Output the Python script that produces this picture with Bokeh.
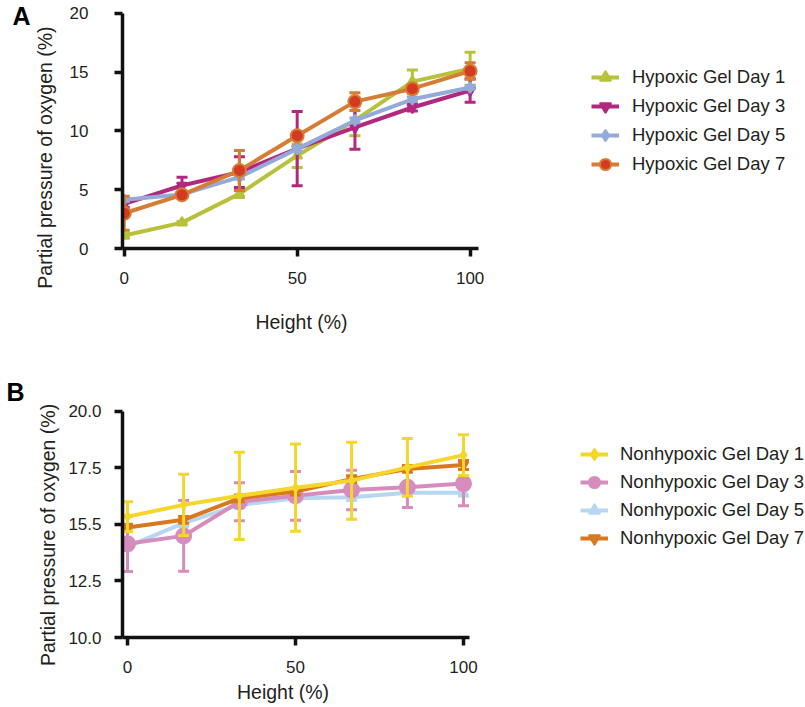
from bokeh.plotting import figure
from bokeh.models import Legend, LegendItem, Range1d, FixedTicker, LinearAxis
from bokeh.layouts import column
from bokeh.embed import file_html
from bokeh.resources import INLINE

# ---------------- data ----------------
height_pct = [0, 16.7, 33.3, 50, 66.7, 83.3, 100]

# Panel A - hypoxic gel
hyp_labels = ["Hypoxic Gel Day 1", "Hypoxic Gel Day 3", "Hypoxic Gel Day 5", "Hypoxic Gel Day 7"]
hyp_day1 = [1.1, 2.2, 4.65, 7.9, 10.9, 14.2, 15.3]
hyp_day1_err = [0.2, 0.1, 0.3, 1.0, 1.3, 1.0, 1.4]
hyp_day3 = [3.8, 5.36, 6.5, 8.5, 10.3, 12.0, 13.45]
hyp_day3_err = [0.3, 0.7, 1.3, 3.15, 1.85, 0.3, 1.0]
hyp_day5 = [4.15, 4.6, 6.07, 8.48, 10.9, 12.7, 13.7]
hyp_day5_err = [0.15, 0.15, 0.15, 0.2, 0.2, 0.2, 0.15]
hyp_day7 = [3.0, 4.57, 6.64, 9.6, 12.5, 13.6, 15.1]
hyp_day7_err = [1.45, 0.2, 1.7, 0.3, 0.75, 0.3, 0.7]
hyp_yticks = [0, 5, 10, 15, 20]

# Panel B - nonhypoxic gel
non_labels = ["Nonhypoxic Gel Day 1", "Nonhypoxic Gel Day 3", "Nonhypoxic Gel Day 5", "Nonhypoxic Gel Day 7"]
non_day1 = [15.34, 15.86, 16.26, 16.62, 16.93, 17.52, 18.06]
non_day1_err = [0.66, 1.35, 1.93, 1.93, 1.7, 1.27, 0.9]
non_day3 = [14.14, 14.49, 16.0, 16.26, 16.52, 16.64, 16.8]
non_day3_err = [1.22, 1.56, 0.84, 1.08, 0.87, 0.9, 0.98]
non_day5 = [14.02, 15.05, 15.86, 16.15, 16.2, 16.4, 16.4]
non_day5_err = [0.15, 0.15, 0.15, 0.15, 0.15, 0.15, 0.15]
non_day7 = [14.86, 15.2, 16.15, 16.45, 17.0, 17.45, 17.62]
non_day7_err = [0.15, 0.15, 0.15, 0.15, 0.15, 0.15, 0.2]
non_yticks = [10, 12.5, 15, 17.5, 20]
non_ytick_labels = ["10.0", "12.5", "15.5", "17.5", "20.0"]

xticks = [0, 50, 100]
x_title = "Height (%)"
y_title = "Partial pressure of oxygen (%)"

FONT = "Liberation Sans"
TXT = "#231f20"


def style_axis(ax):
    ax.axis_line_width = 3.5
    ax.axis_line_color = "#111111"
    ax.major_tick_line_width = 3.5
    ax.major_tick_line_color = "#111111"
    ax.major_tick_out = 8
    ax.major_tick_in = 0
    ax.minor_tick_out = 0
    ax.minor_tick_in = 0
    ax.major_label_text_font = FONT
    ax.major_label_text_font_size = "17px"
    ax.major_label_text_color = TXT
    ax.axis_label_text_font = FONT
    ax.axis_label_text_font_size = "19.5px"
    ax.axis_label_text_font_style = "normal"
    ax.axis_label_text_color = TXT


def text_axis(at, text, size, standoff, bold=False, vertical=False):
    # a line-less axis whose single tick label carries a title / panel letter
    ax = LinearAxis(ticker=FixedTicker(ticks=[at]))
    style_axis(ax)
    ax.axis_line_color = None
    ax.major_tick_line_color = None
    ax.major_tick_out = 0
    ax.minor_tick_line_color = None
    ax.major_label_overrides = {at: text}
    ax.major_label_text_font_size = size
    ax.major_label_standoff = standoff
    if bold:
        ax.major_label_text_font_style = "bold"
        ax.major_label_text_color = "#000000"
    if vertical:
        ax.major_label_orientation = "vertical"
    return ax


def style(p):
    p.outline_line_color = None
    p.xgrid.visible = False
    p.ygrid.visible = False
    p.background_fill_color = "white"
    p.border_fill_color = "white"
    style_axis(p.xaxis[0])
    style_axis(p.yaxis[0])
    p.xaxis.ticker = FixedTicker(ticks=xticks)


def series(p, y, err, color, marker, size, fill=None, lw=4):
    lo = [a - e for a, e in zip(y, err)]
    hi = [a + e for a, e in zip(y, err)]
    p.segment(x0=height_pct, y0=lo, x1=height_pct, y1=hi, line_color=color, line_width=3)
    p.scatter(height_pct, hi, marker="dash", size=11, line_color=color, line_width=3)
    p.scatter(height_pct, lo, marker="dash", size=11, line_color=color, line_width=3)
    lr = p.line(height_pct, y, line_color=color, line_width=lw, line_join="round")
    mr = p.scatter(height_pct, y, marker=marker, size=size, fill_color=fill or color,
                   line_color=color, line_width=2)
    return [lr, mr]


def make_legend(labels, rends, loc, standoff, spacing):
    return Legend(items=[LegendItem(label=l, renderers=r) for l, r in zip(labels, rends)],
                  location=loc, glyph_width=28, glyph_height=28, label_height=28,
                  label_standoff=standoff, spacing=spacing, padding=0, margin=0,
                  border_line_color=None, background_fill_alpha=0,
                  label_text_font=FONT, label_text_font_size="18.5px", label_text_color=TXT)


# ---------------- Panel A ----------------
pa = figure(frame_width=358, frame_height=239,
            min_border_left=122, min_border_right=322, min_border_top=9, min_border_bottom=97,
            x_range=Range1d(-0.5, 103.0), y_range=Range1d(0, 20.34),
            output_backend="svg", toolbar_location=None)
style(pa)
pa.yaxis[0].ticker = FixedTicker(ticks=hyp_yticks)
pa.xaxis.bounds = (-0.5, 102.3)
pa.yaxis[0].bounds = (0, 20)
pa.xaxis.axis_label = x_title
pa.xaxis.major_label_standoff = 15
pa.xaxis.axis_label_standoff = 24
pa.yaxis[0].major_label_standoff = 26
pa.add_layout(text_axis(7.74, y_title, "19.5px", 10, vertical=True), "left")
pa.add_layout(text_axis(19.8, "A", "25px", 1, bold=True), "left")

a_cols = ["#b8c13a", "#b3287f", "#94abd9", "#d67d35"]
ra1 = series(pa, hyp_day1, hyp_day1_err, a_cols[0], "triangle", 10)
ra3 = series(pa, hyp_day3, hyp_day3_err, a_cols[1], "inverted_triangle", 10)
ra5 = series(pa, hyp_day5, hyp_day5_err, a_cols[2], "diamond", 11)
ra7 = series(pa, hyp_day7, hyp_day7_err, a_cols[3], "circle", 13, fill="#d43a20")
pa.add_layout(make_legend(hyp_labels, [ra1, ra3, ra5, ra7], (111, 70), 13, 1), "right")

# ---------------- Panel B ----------------
pb = figure(frame_width=354, frame_height=247,
            min_border_left=122, min_border_right=326, min_border_top=45, min_border_bottom=70,
            x_range=Range1d(-1.49, 103.87), y_range=Range1d(10, 20.915),
            output_backend="svg", toolbar_location=None)
style(pb)
pb.yaxis[0].ticker = FixedTicker(ticks=non_yticks)
pb.yaxis[0].major_label_overrides = {t: s for t, s in zip(non_yticks, non_ytick_labels)}
pb.xaxis.bounds = (-1.49, 101.8)
pb.yaxis[0].bounds = (10, 20)
pb.xaxis.major_label_standoff = 15
pb.yaxis[0].major_label_standoff = 13
pb.add_layout(text_axis(46.3, x_title, "19.5px", 5), "below")
pb.add_layout(text_axis(14.53, y_title, "19.5px", 6, vertical=True), "left")
pb.add_layout(text_axis(20.83, "B", "25px", 10, bold=True), "left")

b_cols = ["#f5d62b", "#d68dbd", "#b7d7f0", "#d9781e"]
rb5 = series(pb, non_day5, non_day5_err, b_cols[2], "triangle", 9)
rb3 = series(pb, non_day3, non_day3_err, b_cols[1], "circle", 15)
rb7 = series(pb, non_day7, non_day7_err, b_cols[3], "inverted_triangle", 9)
rb1 = series(pb, non_day1, non_day1_err, b_cols[0], "diamond", 9)
pb.add_layout(make_legend(non_labels, [rb1, rb3, rb5, rb7], (104, 85), 12, 0), "right")

layout = column(pa, pb, spacing=0)
open("out.html", "w").write(file_html(layout, INLINE))
